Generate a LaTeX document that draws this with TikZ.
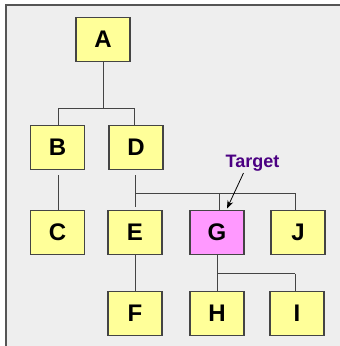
\documentclass[tikz,border=0pt]{standalone}
\usepackage{fontspec}
\setmainfont{Liberation Sans}
\usetikzlibrary{arrows.meta}
\definecolor{panel}{HTML}{EEEEEE}
\definecolor{frameline}{HTML}{555555}
\definecolor{boxfill}{HTML}{FFFF99}
\definecolor{targetfill}{HTML}{FF99FF}
\definecolor{wire}{HTML}{444444}
\definecolor{labelpurple}{RGB}{75,0,130}
\tikzset{
  box/.style={draw=wire, line width=1.1pt, fill=boxfill, minimum width=54pt,
    minimum height=44pt, inner sep=0pt, font=\fontsize{24}{24}\selectfont\bfseries},
  targetbox/.style={box, fill=targetfill},
  link/.style={draw=wire, line width=1pt},
  note/.style={text=labelpurple, font=\fontsize{18}{18}\selectfont\bfseries, inner sep=0pt},
  pointer/.style={black, line width=0.8pt, -{Stealth[length=8pt,width=6pt]}}
}
\begin{document}
\begin{tikzpicture}[x=1pt, y=-1pt]
  \useasboundingbox (0,0) rectangle (340,346);
  \fill[white] (0,0) rectangle (340,346);
  \fill[panel] (5,4) rectangle (340,346);
  \draw[frameline, line width=2pt] (6,346) -- (6,5) -- (340,5);

  % boxes
  \node[box] (A) at (103,39.5) {A};
  \node[box] (B) at (57.5,147.5) {B};
  \node[box] (D) at (136,147.5) {D};
  \node[box] (C) at (57.5,232.5) {C};
  \node[box] (E) at (135,232.5) {E};
  \node[targetbox] (G) at (217,232.5) {G};
  \node[box] (J) at (298,232.5) {J};
  \node[box] (F) at (135,313.5) {F};
  \node[box] (H) at (217,313.5) {H};
  \node[box] (I) at (297,313.5) {I};

  % A -> B, D
  \coordinate (abus) at (103,108);
  \coordinate (bl) at (58,108);
  \coordinate (dl) at (134,108);
  \draw[link] (A.south) -- (abus);
  \draw[link] (bl) -- (dl);
  \draw[link] (bl) -- (bl |- B.north);
  \draw[link] (dl) -- (dl |- D.north);

  % B -> C
  \coordinate (bc1) at (58,175);
  \coordinate (bc2) at (58,210.5);
  \draw[link] (bc1) -- (bc2);

  % D -> E, G, J
  \coordinate (d1) at (135,175);
  \coordinate (d2) at (135,207);
  \coordinate (dbus) at (135,193);
  \coordinate (gdrop) at (219,193);
  \coordinate (jdrop) at (295,193);
  \draw[link] (d1) -- (d2);
  \draw[link] (dbus) -- (jdrop);
  \draw[link] (gdrop) -- (gdrop |- G.north);
  \draw[link] (jdrop) -- (jdrop |- J.north);

  % E -> F
  \coordinate (ef) at (135,254.5);
  \draw[link] (ef) -- (ef |- F.north);

  % G -> H, I
  \coordinate (gh) at (217,254.5);
  \coordinate (gbus) at (217,273.7);
  \coordinate (idrop) at (295,273.7);
  \draw[link] (gh) -- (gh |- H.north);
  \draw[link] (gbus) -- (idrop);
  \draw[link] (idrop) -- (idrop |- I.north);

  % label and pointer
  \node[note] (target) at (252.5,163) {Target};
  \coordinate (tail) at (243.5,173);
  \coordinate (tip) at (227,208.5);
  \draw[pointer] (tail) -- (tip);
\end{tikzpicture}
\end{document}
